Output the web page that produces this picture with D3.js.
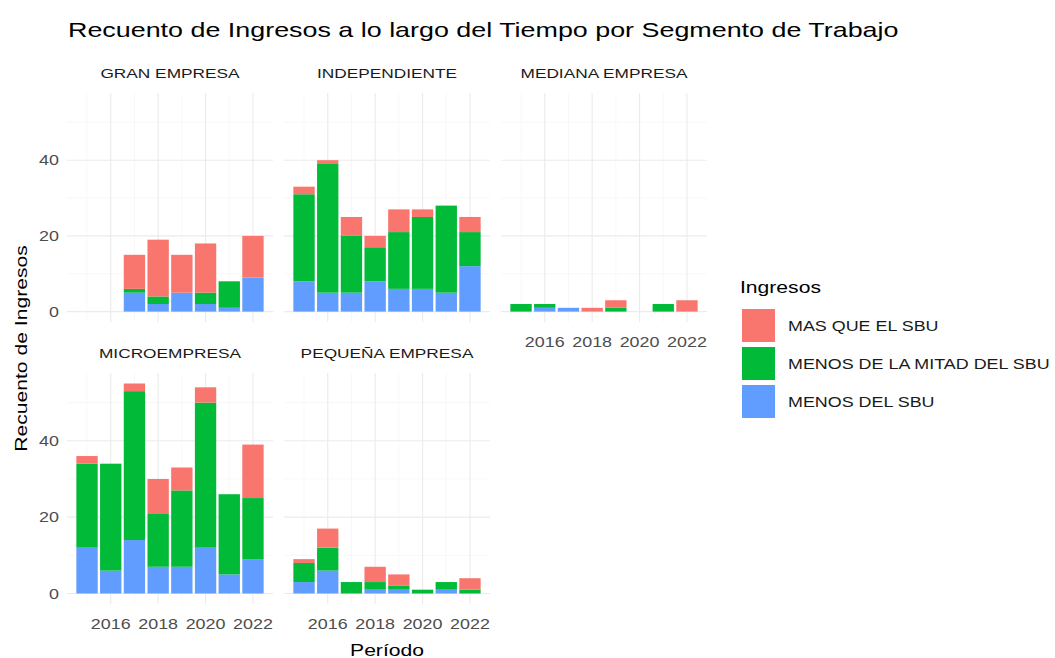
<!DOCTYPE html>
<html>
<head>
<meta charset="utf-8">
<script src="https://cdn.jsdelivr.net/npm/d3@7"></script>
<style>
  body { margin: 0; background: #fff; }
  svg text { font-family: "Liberation Sans", Arial, sans-serif; }
</style>
</head>
<body>
<div id="chart"></div>
<script>
var years = [2015, 2016, 2017, 2018, 2019, 2020, 2021, 2022];
var segments = ['GRAN EMPRESA', 'INDEPENDIENTE', 'MEDIANA EMPRESA', 'MICROEMPRESA', 'PEQUEÑA EMPRESA'];
var levels = ['MENOS DEL SBU', 'MENOS DE LA MITAD DEL SBU', 'MAS QUE EL SBU'];
var legendOrder = ['MAS QUE EL SBU', 'MENOS DE LA MITAD DEL SBU', 'MENOS DEL SBU'];
var colors = ['#619CFF', '#00BA38', '#F8766D'];

// counts per year, one array per segment and income level
var menosDelSbu = {
  'GRAN EMPRESA':    [0, 0, 5, 2, 5, 2, 1, 9],
  'INDEPENDIENTE':   [8, 5, 5, 8, 6, 6, 5, 12],
  'MEDIANA EMPRESA': [0, 1, 1, 0, 0, 0, 0, 0],
  'MICROEMPRESA':    [12, 6, 14, 7, 7, 12, 5, 9],
  'PEQUEÑA EMPRESA': [3, 6, 0, 1, 1, 0, 1, 0]
};
var menosMitad = {
  'GRAN EMPRESA':    [0, 0, 1, 2, 0, 3, 7, 0],
  'INDEPENDIENTE':   [23, 34, 15, 9, 15, 19, 23, 9],
  'MEDIANA EMPRESA': [2, 1, 0, 0, 1, 0, 2, 0],
  'MICROEMPRESA':    [22, 28, 39, 14, 20, 38, 21, 16],
  'PEQUEÑA EMPRESA': [5, 6, 3, 2, 1, 1, 2, 1]
};
var masQueSbu = {
  'GRAN EMPRESA':    [0, 0, 9, 15, 10, 13, 0, 11],
  'INDEPENDIENTE':   [2, 1, 5, 3, 6, 2, 0, 4],
  'MEDIANA EMPRESA': [0, 0, 0, 1, 2, 0, 0, 3],
  'MICROEMPRESA':    [2, 0, 2, 9, 6, 4, 0, 14],
  'PEQUEÑA EMPRESA': [1, 5, 0, 4, 3, 0, 0, 3]
};
var yTicks = [0, 20, 40];
var xTicks = [2016, 2018, 2020, 2022];

var width = 1055, height = 658;
var panel = { w: 206, step: 217, left: 67 };
var rows = [{ top: 93, bottom: 322 }, { top: 373, bottom: 604 }];
var stretch = 1.28; // the reference text is drawn wide

var svg = d3.select('#chart').append('svg')
  .attr('width', width)
  .attr('height', height);

// text helper: wide glyphs like the reference
function label(x, y, str, size, fill, anchor, rot) {
  return svg.append('text')
    .attr('transform', 'translate(' + x + ',' + y + ')' + (rot ? ' rotate(' + rot + ')' : '') + ' scale(' + stretch + ',1)')
    .attr('text-anchor', anchor || 'start')
    .attr('font-size', size)
    .attr('fill', fill)
    .text(str);
}

label(68, 37, 'Recuento de Ingresos a lo largo del Tiempo por Segmento de Trabajo', 21, '#000');

var maxTotal = d3.max(segments, function (s) {
  return d3.max(years, function (y, i) {
    return menosDelSbu[s][i] + menosMitad[s][i] + masQueSbu[s][i];
  });
});
var yPad = maxTotal * 0.05;
var xLo = years[0] - 0.45, xHi = years[years.length - 1] + 0.45;
var xPad = (xHi - xLo) * 0.05;

var stack = d3.stack().keys(levels);

segments.forEach(function (seg, k) {
  var col = k % 3, row = Math.floor(k / 3);
  var x0 = panel.left + col * panel.step;
  var r = rows[row];
  var x = d3.scaleLinear().domain([xLo - xPad, xHi + xPad]).range([x0, x0 + panel.w]);
  var y = d3.scaleLinear().domain([-yPad, maxTotal + yPad]).range([r.bottom, r.top]);
  var g = svg.append('g');

  // grid
  [2015, 2017, 2019, 2021].forEach(function (v) {
    g.append('line').attr('x1', x(v)).attr('x2', x(v)).attr('y1', r.top).attr('y2', r.bottom)
      .attr('stroke', '#f3f3f3').attr('stroke-width', 0.6);
  });
  [10, 30, 50].forEach(function (v) {
    g.append('line').attr('x1', x0).attr('x2', x0 + panel.w).attr('y1', y(v)).attr('y2', y(v))
      .attr('stroke', '#f3f3f3').attr('stroke-width', 0.6);
  });
  xTicks.forEach(function (v) {
    g.append('line').attr('x1', x(v)).attr('x2', x(v)).attr('y1', r.top).attr('y2', r.bottom)
      .attr('stroke', '#ebebeb').attr('stroke-width', 1.1);
  });
  yTicks.forEach(function (v) {
    g.append('line').attr('x1', x0).attr('x2', x0 + panel.w).attr('y1', y(v)).attr('y2', y(v))
      .attr('stroke', '#ebebeb').attr('stroke-width', 1.1);
  });

  // bars
  var rowsData = years.map(function (yr, i) {
    return {
      year: yr,
      'MENOS DEL SBU': menosDelSbu[seg][i],
      'MENOS DE LA MITAD DEL SBU': menosMitad[seg][i],
      'MAS QUE EL SBU': masQueSbu[seg][i]
    };
  });
  var series = stack(rowsData);
  var bw = x(0.9) - x(0);
  series.forEach(function (s, si) {
    g.selectAll(null).data(s.filter(function (d) { return d[1] > d[0]; }))
      .enter().append('rect')
      .attr('x', function (d) { return x(d.data.year) - bw / 2; })
      .attr('width', bw)
      .attr('y', function (d) { return y(d[1]); })
      .attr('height', function (d) { return y(d[0]) - y(d[1]); })
      .attr('fill', colors[si]);
  });

  // strip label
  label(x0 + panel.w / 2, r.top - 15, seg, 13.5, '#1a1a1a', 'middle');

  // y axis labels only on first column
  if (col === 0) {
    yTicks.forEach(function (v) {
      label(x0 - 8, y(v) + 5, v, 14, '#4d4d4d', 'end');
    });
  }

  // x axis labels on bottom panel of each column
  if (row === 1 || col === 2) {
    xTicks.forEach(function (v) {
      label(x(v), r.bottom + 25, v, 14, '#4d4d4d', 'middle');
    });
  }
});

label(27, (rows[0].top + rows[1].bottom) / 2, 'Recuento de Ingresos', 16.5, '#000', 'middle', -90);
label(panel.left + (panel.step * 2 + panel.w) / 2, 656, 'Período', 16.5, '#000', 'middle');

// legend
var legend = svg.append('g').attr('transform', 'translate(741,0)');
label(740, 293, 'Ingresos', 16.5, '#000');
legendOrder.forEach(function (name, i) {
  var yy = 309 + i * 38;
  legend.append('rect')
    .attr('x', 1)
    .attr('y', yy)
    .attr('width', 33)
    .attr('height', 33)
    .attr('fill', colors[levels.indexOf(name)]);
  label(788, yy + 22, name, 14, '#1a1a1a');
});
</script>
</body>
</html>
